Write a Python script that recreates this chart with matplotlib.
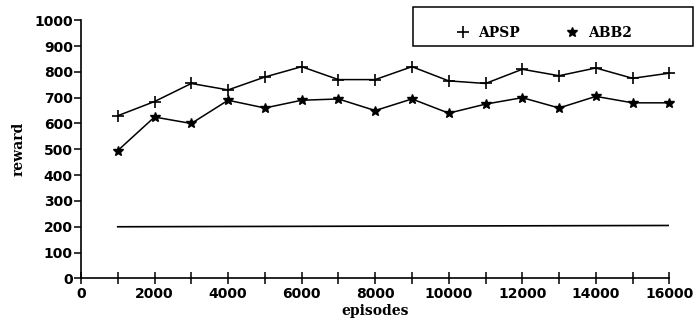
import matplotlib
matplotlib.use('Agg')
import matplotlib.pyplot as plt
from matplotlib.ticker import MultipleLocator
from matplotlib.patches import Rectangle

episodes = [1000, 2000, 3000, 4000, 5000, 6000, 7000, 8000,
            9000, 10000, 11000, 12000, 13000, 14000, 15000, 16000]
apsp = [630, 685, 755, 730, 780, 820, 770, 770,
        820, 765, 755, 810, 785, 815, 775, 795]
abb2 = [495, 625, 600, 690, 660, 690, 695, 650,
        695, 640, 675, 700, 660, 705, 680, 680]
# flat reference line without markers
base_x = [1000, 16000]
base_y = [200, 205]

fig = plt.figure(figsize=(6.98, 3.26), dpi=100)
ax = fig.add_axes([0.116, 0.146, 0.843, 0.792])

ax.plot(episodes, apsp, color='black', lw=1.1, marker='+', ms=9, mew=1.2,
        label='APSP', clip_on=False)
ax.plot(episodes, abb2, color='black', lw=1.1, marker='*', ms=7.5,
        label='ABB2', clip_on=False)
ax.plot(base_x, base_y, color='black', lw=1.2)

ax.set_xlim(0, 16000)
ax.set_ylim(0, 1000)

ax.spines['top'].set_visible(False)
ax.spines['right'].set_visible(False)
ax.spines['left'].set_linewidth(1.2)
ax.spines['bottom'].set_linewidth(1.2)

ax.xaxis.set_major_locator(MultipleLocator(2000))
ax.xaxis.set_minor_locator(MultipleLocator(1000))
ax.yaxis.set_major_locator(MultipleLocator(100))
ax.tick_params(axis='x', which='both', direction='inout', length=9, width=1.1, pad=2)
ax.tick_params(axis='y', direction='out', length=5, width=1.1, pad=1)

for lab in ax.get_xticklabels() + ax.get_yticklabels():
    lab.set_fontweight('bold')
    lab.set_fontsize(10)

ax.set_xlabel('episodes', family='DejaVu Serif', fontweight='bold', fontsize=10, labelpad=2)
ax.set_ylabel('reward', family='DejaVu Serif', fontweight='bold', fontsize=10, labelpad=6)

# legend box
fig.patches.append(Rectangle((413 / 698, 1 - 46 / 326), 280 / 698, 39 / 326,
                             transform=fig.transFigure, fill=False,
                             edgecolor='black', lw=1.1))
leg = fig.legend(loc='center', bbox_to_anchor=(543 / 698, 1 - 33 / 326), ncol=2,
                 frameon=False, handlelength=1.2, handletextpad=0.5,
                 columnspacing=3.2, prop={'family': 'DejaVu Serif', 'weight': 'bold', 'size': 10})
for h in leg.legend_handles:
    h.set_linestyle('none')

plt.savefig('out.png', dpi=100)
plt.close(fig)
